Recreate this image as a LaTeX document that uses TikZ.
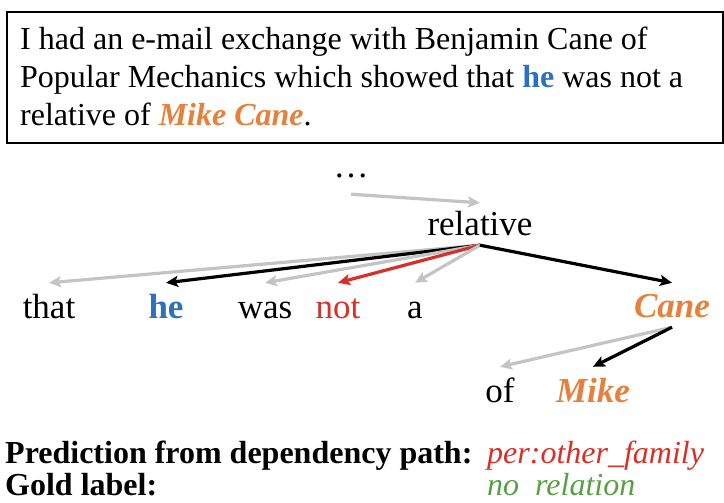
\documentclass[tikz,border=0pt]{standalone}
\usepackage{fontspec}
\setmainfont{Liberation Serif}
\usetikzlibrary{arrows.meta}
\definecolor{heblue}{RGB}{46,112,192}
\definecolor{caneorange}{RGB}{230,128,60}
\definecolor{notred}{RGB}{214,48,40}
\definecolor{goldgreen}{RGB}{88,160,70}
\definecolor{lgray}{RGB}{196,196,196}
\begin{document}
\begin{tikzpicture}[x=1pt,y=-1pt,
  boxtext/.style={font=\fontsize{32}{36}\selectfont, anchor=base west, inner sep=0pt},
  w/.style={font=\fontsize{35}{40}\selectfont, anchor=base, inner xsep=0pt, inner ysep=16pt, text height=19pt, text depth=0pt},
  arr/.style={-{Stealth[length=12pt,width=11pt,inset=2.5pt]}, line width=3.2pt},
  garr/.style={arr, draw=lgray},
  barr/.style={arr, draw=black},
  rarr/.style={arr, draw=notred},
  foot/.style={font=\fontsize{32}{36}\selectfont, anchor=base west, inner sep=0pt}]
\useasboundingbox (0,0) rectangle (724,503);
\draw[line width=1.4pt] (7,12) rectangle (723,143);
\node[boxtext] (l1) at (20,50) {I had an e-mail exchange with Benjamin Cane of};
\node[boxtext] (l2) at (20,88) {Popular Mechanics which showed that \textcolor{heblue}{\textbf{he}} was not a};
\node[boxtext] (l3) at (20,126) {relative of \textcolor{caneorange}{\textbf{\textit{Mike Cane}}}.};

\node[w, text height=10pt, inner ysep=16pt] (dots) at (351,178) {…};
\node[w, text height=22pt, inner ysep=10pt] (rel) at (480,235) {relative};
\node[w] (that) at (49,318) {that};
\node[w] (he) at (166,318) {\textcolor{heblue}{\textbf{he}}};
\node[w] (was) at (265,318) {was};
\node[w] (not) at (338,318) {\textcolor{notred}{not}};
\node[w] (a) at (415,318) {a};
\node[w, text height=24pt, inner ysep=10pt] (cane) at (672,317) {\textcolor{caneorange}{\textbf{\textit{Cane}}}};
\node[w] (of) at (500,402) {of};
\node[w] (mike) at (593,402) {\textcolor{caneorange}{\textbf{\textit{Mike}}}};

\draw[garr] (dots.south) -- (rel.north);
\draw[garr] (rel.south) -- (that.north);
\draw[barr] (rel.south) -- (he.north);
\draw[garr] (rel.south) -- (was.north);
\draw[rarr] (rel.south) -- (not.north);
\draw[garr] (rel.south) -- (a.north);
\draw[barr] (rel.south) -- (cane.north);
\draw[garr] (cane.south) -- (of.north);
\draw[barr] (cane.south) -- (mike.north);

\node[foot] (pred) at (5,463) {\textbf{Prediction from dependency path:}};
\node[foot] (predv) at (487,463) {\textcolor{notred}{\textit{per:other\_family}}};
\node[foot] (gold) at (5,495) {\textbf{Gold label:}};
\node[foot] (goldv) at (487,495) {\textcolor{goldgreen}{\textit{no\hspace{0.5em}relation}}};
\end{tikzpicture}
\end{document}
